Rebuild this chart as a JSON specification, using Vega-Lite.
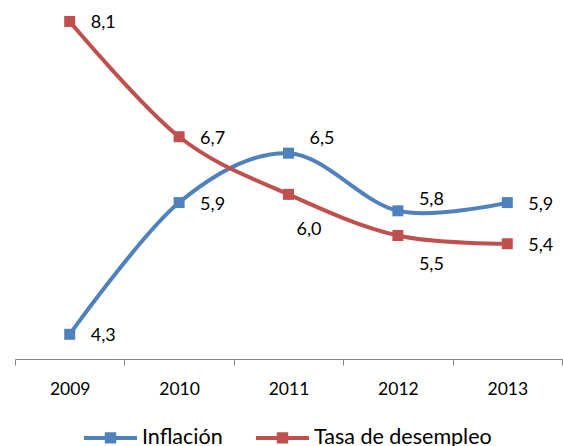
{
  "$schema": "https://vega.github.io/schema/vega-lite/v6.json",
  "width": 547,
  "height": 354,
  "padding": {"left": 14, "top": 5, "right": 2, "bottom": 0},
  "background": "white",
  "config": {
    "view": {"stroke": null},
    "font": "Lato",
    "locale": {"number": {"decimal": ",", "thousands": ".", "grouping": [3], "currency": ["", " €"]}}
  },
  "data": {
    "values": [
      {"serie": "Inflación", "year": "2009", "value": 4.3},
      {"serie": "Inflación", "year": "2010", "value": 5.9},
      {"serie": "Inflación", "year": "2011", "value": 6.5},
      {"serie": "Inflación", "year": "2012", "value": 5.8},
      {"serie": "Inflación", "year": "2013", "value": 5.9},
      {"serie": "Tasa de desempleo", "year": "2009", "value": 8.1},
      {"serie": "Tasa de desempleo", "year": "2010", "value": 6.7},
      {"serie": "Tasa de desempleo", "year": "2011", "value": 6.0},
      {"serie": "Tasa de desempleo", "year": "2012", "value": 5.5},
      {"serie": "Tasa de desempleo", "year": "2013", "value": 5.4}
    ]
  },
  "encoding": {
    "x": {
      "field": "year", "type": "ordinal",
      "scale": {"type": "band", "paddingInner": 0, "paddingOuter": 0},
      "axis": {
        "title": null, "labelAngle": 0, "grid": false,
        "domainColor": "#868686", "tickColor": "#868686", "domainWidth": 1, "tickWidth": 1,
        "tickSize": 6, "tickBand": "extent",
        "labelFont": "Lato", "labelFontSize": 17.5, "labelColor": "#000", "labelPadding": 15
      }
    },
    "y": {
      "field": "value", "type": "quantitative",
      "scale": {"domain": [4, 8.3], "nice": false, "zero": false},
      "axis": null
    },
    "color": {
      "field": "serie", "type": "nominal",
      "scale": {"domain": ["Inflación", "Tasa de desempleo"], "range": ["#4F81BD", "#C0504D"]},
      "legend": {
        "title": null, "orient": "none", "direction": "horizontal", "columns": 2,
        "legendX": 67, "legendY": 404, "padding": 0,
        "symbolType": "M-1,0L1,0M-0.14,-0.14L0.14,-0.14L0.14,0.14L-0.14,0.14Z",
        "symbolSize": 2809, "symbolStrokeWidth": 4,
        "labelFont": "Lato", "labelFontSize": 21.5, "labelColor": "#000", "labelOffset": 3,
        "labelLimit": 0,
        "columnPadding": 25,
        "encode": {"symbols": {"update": {
          "fill": {"scale": "color", "field": "value"},
          "stroke": {"scale": "color", "field": "value"},
          "strokeWidth": {"value": 4},
          "opacity": {"value": 1}
        }}}
      }
    }
  },
  "layer": [
    {"mark": {"type": "line", "interpolate": "cardinal", "tension": 0, "strokeWidth": 4}},
    {"mark": {"type": "point", "shape": "square", "filled": true, "size": 121, "opacity": 1}},
    {
      "transform": [{"filter": "datum.year != '2011' && datum.year != '2012'"}],
      "mark": {"type": "text", "align": "left", "baseline": "middle", "dx": 21, "dy": 2, "font": "Lato", "fontSize": 18},
      "encoding": {"text": {"field": "value", "type": "quantitative", "format": ".1f"}, "color": {"value": "#000"}}
    },
    {
      "transform": [{"filter": "datum.serie == 'Inflación' && datum.year == '2011'"}],
      "mark": {"type": "text", "align": "left", "baseline": "middle", "dx": 21, "dy": -14, "font": "Lato", "fontSize": 18},
      "encoding": {"text": {"field": "value", "type": "quantitative", "format": ".1f"}, "color": {"value": "#000"}}
    },
    {
      "transform": [{"filter": "datum.serie == 'Inflación' && datum.year == '2012'"}],
      "mark": {"type": "text", "align": "left", "baseline": "middle", "dx": 21, "dy": -11, "font": "Lato", "fontSize": 18},
      "encoding": {"text": {"field": "value", "type": "quantitative", "format": ".1f"}, "color": {"value": "#000"}}
    },
    {
      "transform": [{"filter": "datum.serie == 'Tasa de desempleo' && datum.year == '2011'"}],
      "mark": {"type": "text", "align": "left", "baseline": "middle", "dx": 8, "dy": 36, "font": "Lato", "fontSize": 18},
      "encoding": {"text": {"field": "value", "type": "quantitative", "format": ".1f"}, "color": {"value": "#000"}}
    },
    {
      "transform": [{"filter": "datum.serie == 'Tasa de desempleo' && datum.year == '2012'"}],
      "mark": {"type": "text", "align": "left", "baseline": "middle", "dx": 21, "dy": 29, "font": "Lato", "fontSize": 18},
      "encoding": {"text": {"field": "value", "type": "quantitative", "format": ".1f"}, "color": {"value": "#000"}}
    }
  ]
}
